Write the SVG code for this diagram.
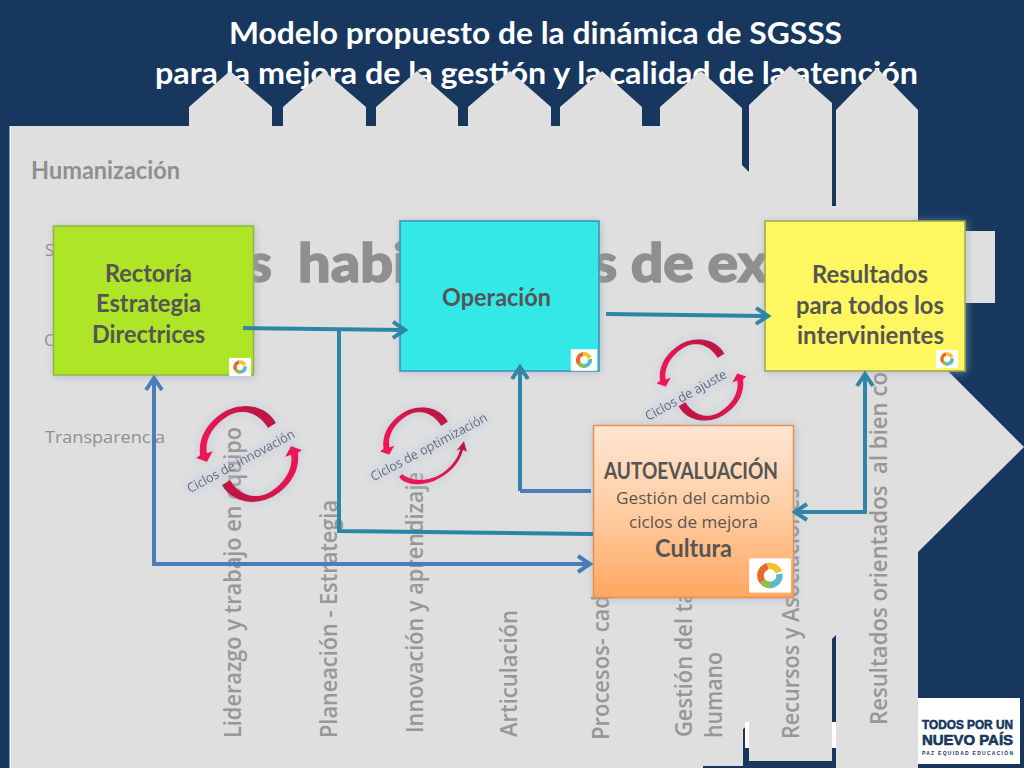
<svg xmlns="http://www.w3.org/2000/svg" width="1024" height="768" viewBox="0 0 1024 768">
<style>
.title{font:700 31px Lato,"Liberation Sans",sans-serif;fill:#fff;text-anchor:middle}
.side{font:600 24px "Open Sans","Liberation Sans",sans-serif;fill:#979797;white-space:pre}
.val{font:400 17px "Open Sans","Liberation Sans",sans-serif;fill:#8f8f8f}
.big{font:900 54px Lato,"Liberation Sans",sans-serif;fill:#8f8f8f;stroke:#8f8f8f;stroke-width:1.500;white-space:pre}
.nt{font:700 25px Lato,"Liberation Sans",sans-serif;fill:#555;text-anchor:middle}
.ns{font:400 16px "Open Sans","Liberation Sans",sans-serif;fill:#5c5550;text-anchor:middle}
.cyc{font:400 13px "Open Sans","Liberation Sans",sans-serif;fill:#5d6672;text-anchor:middle}
.box{filter:url(#sh);stroke-width:1.500}
.cr{fill:url(#cr)}
.c{fill:none;stroke-width:4}
.t{stroke:#2e86a6}.b{stroke:#4a7ebb}
.lg{font-family:"Liberation Sans",sans-serif;font-weight:700;fill:#17375e;stroke:#17375e;stroke-width:.6}
</style>
<defs>
<filter id="sh" x="-10%" y="-10%" width="120%" height="120%"><feGaussianBlur in="SourceAlpha" stdDeviation="4" result="b"/><feFlood flood-color="#9aa6c0" flood-opacity=".6"/><feComposite in2="b" operator="in"/><feOffset dx="1" dy="1"/><feMerge><feMergeNode/><feMergeNode in="SourceGraphic"/></feMerge></filter>
<filter id="gl" x="-30%" y="-30%" width="160%" height="160%"><feMorphology in="SourceAlpha" operator="dilate" radius="2"/><feGaussianBlur stdDeviation="5" result="b"/><feFlood flood-color="#bfc9dc" flood-opacity=".55"/><feComposite in2="b" operator="in"/><feMerge><feMergeNode/><feMergeNode in="SourceGraphic"/></feMerge></filter>
<linearGradient id="og" x1="0" y1="0" x2="0" y2="1"><stop offset="0" stop-color="#ffe6d3"/><stop offset=".5" stop-color="#ffcda3"/><stop offset="1" stop-color="#ffa75f"/></linearGradient>
<linearGradient id="cr" x1="1" y1="0" x2="0" y2="1"><stop offset="0" stop-color="#b0123f"/><stop offset=".5" stop-color="#e01450"/><stop offset="1" stop-color="#f01858"/></linearGradient>
<marker id="at" markerUnits="userSpaceOnUse" markerWidth="24" markerHeight="24" refX="15" refY="12" orient="auto-start-reverse" viewBox="0 0 24 24"><path d="M3 4L15 12L3 20" fill="none" stroke="#2e86a6" stroke-width="4"/></marker>
<marker id="ab" markerUnits="userSpaceOnUse" markerWidth="24" markerHeight="24" refX="15" refY="12" orient="auto-start-reverse" viewBox="0 0 24 24"><path d="M3 4L15 12L3 20" fill="none" stroke="#4a7ebb" stroke-width="4"/></marker>
<g id="ring"><rect x="-11" y="-9" width="22" height="18" fill="#fff"/><g fill="none" stroke-width="3.500" transform="rotate(-20)"><circle r="5" stroke="#e8692c" stroke-dasharray="10 22" stroke-dashoffset="-14"/><circle r="5" stroke="#f2c230" stroke-dasharray="8 24" stroke-dashoffset="-24"/><circle r="5" stroke="#5fb7c9" stroke-dasharray="9 23" stroke-dashoffset="-1"/><circle r="5" stroke="#8fbf4a" stroke-dasharray="5 27" stroke-dashoffset="-9"/></g></g>
<path id="hook" class="cr" d="M276,423C266,404 238,400 218,416C205,426 198,440 200,455L196,458L207,462L213,451L207,453C205,440 212,426 228,416C242,408 258,412 268,428Z"/>
</defs>

<rect id="background" width="1024" height="768" fill="#17375e"/>
<text class="title" x="535.500" y="44" textLength="613" lengthAdjust="spacingAndGlyphs">Modelo propuesto de la dinámica de SGSSS</text>
<text class="title" x="536.500" y="84" textLength="763" lengthAdjust="spacingAndGlyphs">para la mejora de la gestión y la calidad de la atención</text>

<path id="house" fill="#dfdfdf" d="M10,126H189V107L230,71L272,107V126H283V107L324,71L366,107V126H376V107L417,71L458,107V126H468V107L510,71L551,107V126H560V107L602,71L642,107V126H660V107L701,71L742,108V165L749,172V105L790,66L832,103V206H836V110L877,68L918,110V231H995V303H918V341L1024,447L918,552V768H836V635L832,639V761H749V724L743,729V766H703V768H10Z"/>
<rect x="9.500" y="126" width="1.500" height="642" fill="#f4f6f8"/>
<rect x="745" y="722" width="4" height="26" fill="#fff"/>
<rect x="832" y="722" width="4" height="26" fill="#fff"/>

<g id="values">
<text x="31" y="179" style="font:700 24px Lato,'Liberation Sans',sans-serif;fill:#8f8f8f" textLength="149" lengthAdjust="spacingAndGlyphs">Humanización</text>
<text class="val" x="45" y="256">S</text>
<text class="val" x="44" y="346">C</text>
<text class="val" x="45" y="443" textLength="120" lengthAdjust="spacingAndGlyphs">Transparencia</text>
<text class="big" x="248" y="282">s</text>
<text class="big" x="298" y="282" textLength="110" lengthAdjust="spacingAndGlyphs">habi</text>
<text class="big" x="592" y="282" textLength="176" lengthAdjust="spacingAndGlyphs">s de ex</text>
</g>

<g id="criteria">
<text class="side" transform="translate(241,738) rotate(-90)" textLength="311" lengthAdjust="spacingAndGlyphs">Liderazgo y trabajo en equipo</text>
<text class="side" transform="translate(337,738) rotate(-90)" textLength="238" lengthAdjust="spacingAndGlyphs">Planeación - Estrategia</text>
<text class="side" transform="translate(423,733) rotate(-90)" textLength="261" lengthAdjust="spacingAndGlyphs">Innovación y aprendizaje</text>
<text class="side" transform="translate(517,737) rotate(-90)" textLength="127" lengthAdjust="spacingAndGlyphs">Articulación</text>
<text class="side" transform="translate(609,740) rotate(-90)" textLength="145" lengthAdjust="spacingAndGlyphs">Procesos- cad</text>
<text class="side" transform="translate(692,737) rotate(-90)" textLength="146" lengthAdjust="spacingAndGlyphs">Gestión del ta</text>
<text class="side" transform="translate(722,738) rotate(-90)" textLength="86" lengthAdjust="spacingAndGlyphs">humano</text>
<text class="side" transform="translate(799,739) rotate(-90)" textLength="251" lengthAdjust="spacingAndGlyphs">Recursos y Asociaciones</text>
<text class="side" transform="translate(887,725) rotate(-90)" textLength="353" lengthAdjust="spacingAndGlyphs">Resultados orientados  al bien co</text>
</g>

<g id="logo">
<rect x="918" y="698" width="102" height="66" fill="#fff"/>
<text class="lg" x="922" y="729" font-size="13" textLength="91" lengthAdjust="spacingAndGlyphs">TODOS POR UN</text>
<text class="lg" x="922" y="745" font-size="15" textLength="91" lengthAdjust="spacingAndGlyphs">NUEVO PAÍS</text>
<text class="lg" x="922" y="755" font-size="5" style="stroke-width:0" textLength="91">PAZ  EQUIDAD  EDUCACIÓN</text>
</g>

<g id="n1-rectoria">
<rect class="box" x="53.500" y="226" width="200" height="149" fill="#aee528" stroke="#93b540"/>
<text class="nt" x="148.500" y="282" textLength="87" lengthAdjust="spacingAndGlyphs">Rectoría</text><text class="nt" x="148.500" y="312" textLength="105" lengthAdjust="spacingAndGlyphs">Estrategia</text><text class="nt" x="148.500" y="343" textLength="113" lengthAdjust="spacingAndGlyphs">Directrices</text>
<use href="#ring" x="240" y="367"/>
</g>
<g id="n2-operacion">
<rect class="box" x="400" y="221" width="199" height="150" fill="#35e8e8" stroke="#3a8fb5"/>
<text class="nt" x="496.500" y="306" textLength="109" lengthAdjust="spacingAndGlyphs">Operación</text>
<use href="#ring" transform="translate(584,360) scale(1.200)"/>
</g>
<g id="n3-resultados">
<rect class="box" x="765" y="221" width="200" height="150" fill="#fff75e" stroke="#9aa84a"/>
<text class="nt" x="870" y="283" textLength="116" lengthAdjust="spacingAndGlyphs">Resultados</text><text class="nt" x="870" y="314" textLength="148" lengthAdjust="spacingAndGlyphs">para todos los</text><text class="nt" x="870.500" y="344" textLength="147" lengthAdjust="spacingAndGlyphs">intervinientes</text>
<use href="#ring" x="947" y="359"/>
</g>
<g id="n4-autoevaluacion">
<rect class="box" x="593.500" y="425.500" width="200" height="172" fill="url(#og)" stroke="#e8904a"/>
<text class="nt" x="691" y="479" style="font-size:22px" textLength="174" lengthAdjust="spacingAndGlyphs">AUTOEVALUACIÓN</text>
<text class="ns" x="693" y="504" textLength="154" lengthAdjust="spacingAndGlyphs">Gestión del cambio</text>
<text class="ns" x="693.500" y="528" textLength="129" lengthAdjust="spacingAndGlyphs">ciclos de mejora</text>
<text class="nt" x="693.500" y="557" textLength="77" lengthAdjust="spacingAndGlyphs">Cultura</text>
<use href="#ring" transform="translate(770,575.500) scale(1.900)"/>
</g>

<g id="connectors">
<path class="c t" d="M243,328L405,330" marker-end="url(#at)"/>
<path class="c t" d="M339,330V531L593,534"/>
<path class="c t" d="M606,314L768,316" marker-end="url(#at)"/>
<path class="c t" d="M520,491V367" marker-end="url(#at)"/>
<path class="c b" d="M520,491H591"/>
<path class="c b" d="M154,378V564H590" marker-start="url(#ab)" marker-end="url(#ab)"/>
<path class="c t" d="M865,374V512H795" marker-start="url(#at)" marker-end="url(#at)"/>
</g>

<g id="cycle-innovacion" filter="url(#gl)">
<use href="#hook"/><use href="#hook" transform="rotate(180 249 454)"/>
<text class="cyc" transform="translate(243,465) rotate(-28)" textLength="120" lengthAdjust="spacingAndGlyphs">Ciclos de innovación</text>
</g>
<g id="cycle-optimizacion" filter="url(#gl)">
<use href="#hook" transform="translate(425,448) scale(.85) translate(-249,-454)"/>
<path class="cr" d="M402,474C412,482 430,482 444,472C453,465 459,456 460,449L456,451L464,441L467,452L463,450C461,460 452,472 438,479C424,487 405,486 399,477Z"/>
<text class="cyc" transform="translate(431,451) rotate(-28)" textLength="130" lengthAdjust="spacingAndGlyphs">Ciclos de optimización</text>
</g>
<g id="cycle-ajuste" filter="url(#gl)">
<use href="#hook" transform="translate(701.500,380) scale(.85) translate(-249,-454)"/>
<use href="#hook" transform="translate(701.500,380) rotate(180) scale(.85) translate(-249,-454)"/>
<text class="cyc" transform="translate(688,399) rotate(-29)" textLength="91" lengthAdjust="spacingAndGlyphs">Ciclos de ajuste</text>
</g>
</svg>
